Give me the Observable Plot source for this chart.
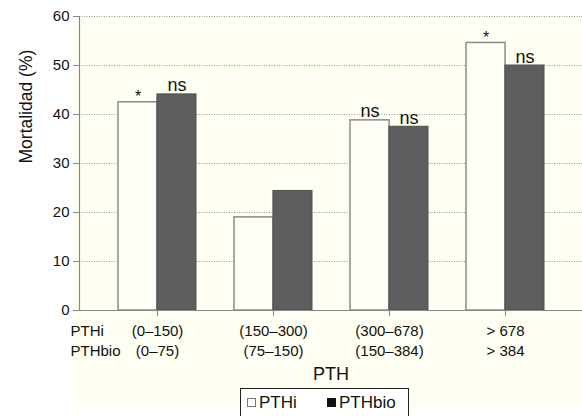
<!DOCTYPE html>
<html>
<head>
<meta charset="utf-8">
<script src="https://cdn.jsdelivr.net/npm/d3@7"></script>
<script src="https://cdn.jsdelivr.net/npm/@observablehq/plot@0.6"></script>
<style>
  body { margin: 0; background: #fff; font-family: "Liberation Sans", Arial, sans-serif; }
  #wrap { position: relative; width: 582px; height: 416px; overflow: hidden; }
  #bg { position: absolute; left: 73px; top: 16px; width: 509px; height: 392px; background: #fefef2; }
  #chart { position: absolute; left: 0; top: 0; }
  #legend { position: absolute; left: 240px; top: 388px; width: 167px; height: 40px; border: 1px solid #222;
    background: #fff; font-size: 17px; color: #111; white-space: nowrap; }
  #legend span.item { position: absolute; top: 4px; }
  #legend span.sw { display: inline-block; width: 9px; height: 9px; margin-right: 3px; vertical-align: 1px; box-sizing: border-box; }
</style>
</head>
<body>
<div id="wrap">
  <div id="bg"></div>
  <div id="chart"></div>
  <div id="legend">
    <span class="item" style="left:6px"><span class="sw" style="border:1px solid #777;background:#fff"></span>PTHi</span>
    <span class="item" style="left:86px"><span class="sw" style="background:#111"></span>PTHbio</span>
  </div>
</div>
<script>
// ---- data ----
const pthiRanges = ["(0–150)", "(150–300)", "(300–678)", "> 678"];
const pthbioRanges = ["(0–75)", "(75–150)", "(150–384)", "> 384"];
const pthiValues = [42.5, 19.0, 38.8, 54.6];
const pthbioValues = [44.1, 24.4, 37.5, 50.0];
const pthiSig = ["*", "", "ns", "*"];
const pthbioSig = ["ns", "", "ns", "ns"];
const yTicks = [0, 10, 20, 30, 40, 50, 60];
const rowLabels = ["PTHi", "PTHbio"];

// ---- layout ----
const W = 582, H = 388, ML = 79, MR = 0, MT = 16, MB = 78, PAD = 0.33;
const step = (W - ML - MR) / (pthiRanges.length - PAD + 2 * PAD);
const bw = step * (1 - PAD);

const pthi = pthiRanges.map((c, i) => ({cat: c, value: pthiValues[i], sig: pthiSig[i]}));
const pthbio = pthiRanges.map((c, i) => ({cat: c, value: pthbioValues[i], sig: pthbioSig[i]}));

const plot = Plot.plot({
  width: W, height: H,
  marginLeft: ML, marginRight: MR, marginTop: MT, marginBottom: MB,
  style: {fontFamily: '"Liberation Sans", Arial, sans-serif', background: "transparent", color: "#111"},
  x: {type: "band", domain: pthiRanges, padding: PAD, label: null},
  y: {domain: [0, 60], label: null},
  marks: [
    Plot.ruleY(yTicks.filter(d => d > 0), {stroke: "#9a9a9a", strokeWidth: 1, strokeDasharray: "1,1.5"}),
    Plot.barY(pthi, {x: "cat", y: "value", insetRight: bw / 2, fill: "#fffff8", stroke: "#8a8a8a", strokeWidth: 1.5}),
    Plot.barY(pthbio, {x: "cat", y: "value", insetLeft: bw / 2, fill: "#5e5e5e", stroke: "#505050", strokeWidth: 1}),
    Plot.text(pthi.filter(d => d.sig === "*"), {x: "cat", y: "value", text: "sig", dx: -bw / 4, dy: 0, lineAnchor: "bottom", fontSize: 16, fill: "#111"}),
    Plot.text(pthi.filter(d => d.sig === "ns"), {x: "cat", y: "value", text: "sig", dx: -bw / 4, dy: -3, lineAnchor: "bottom", fontSize: 18, fill: "#111"}),
    Plot.text(pthbio.filter(d => d.sig === "ns"), {x: "cat", y: "value", text: "sig", dx: bw / 4, dy: -3, lineAnchor: "bottom", fontSize: 18, fill: "#111"}),
    Plot.ruleY([0], {stroke: "#888", strokeWidth: 1.2}),
    Plot.frame({anchor: "left", stroke: "#888", strokeWidth: 1.2}),
    Plot.axisY({ticks: yTicks, tickSize: 6, tickPadding: 4, fontSize: 15, stroke: "#888", fill: "#111", label: null}),
    Plot.axisX({tickSize: 6, tickPadding: 5, fontSize: 15, lineHeight: 1.33, stroke: "#888", fill: "#111", label: null,
      tickFormat: (d) => d + "\n" + pthbioRanges[pthiRanges.indexOf(d)]}),
    Plot.text([rowLabels.join("\n")], {frameAnchor: "bottom-left", text: d => d, dx: -9, dy: 11, lineAnchor: "top", textAnchor: "start", lineHeight: 1.33, fontSize: 15, fill: "#111"}),
    Plot.text(["PTH"], {frameAnchor: "bottom", text: d => d, dy: 69, lineAnchor: "bottom", fontSize: 18, fill: "#111"}),
    Plot.text(["Mortalidad (%)"], {frameAnchor: "left", text: d => d, rotate: -90, dx: -48, lineAnchor: "bottom", fontSize: 17.5, fill: "#111"})
  ]
});
document.getElementById("chart").appendChild(plot);
</script>
</body>
</html>
